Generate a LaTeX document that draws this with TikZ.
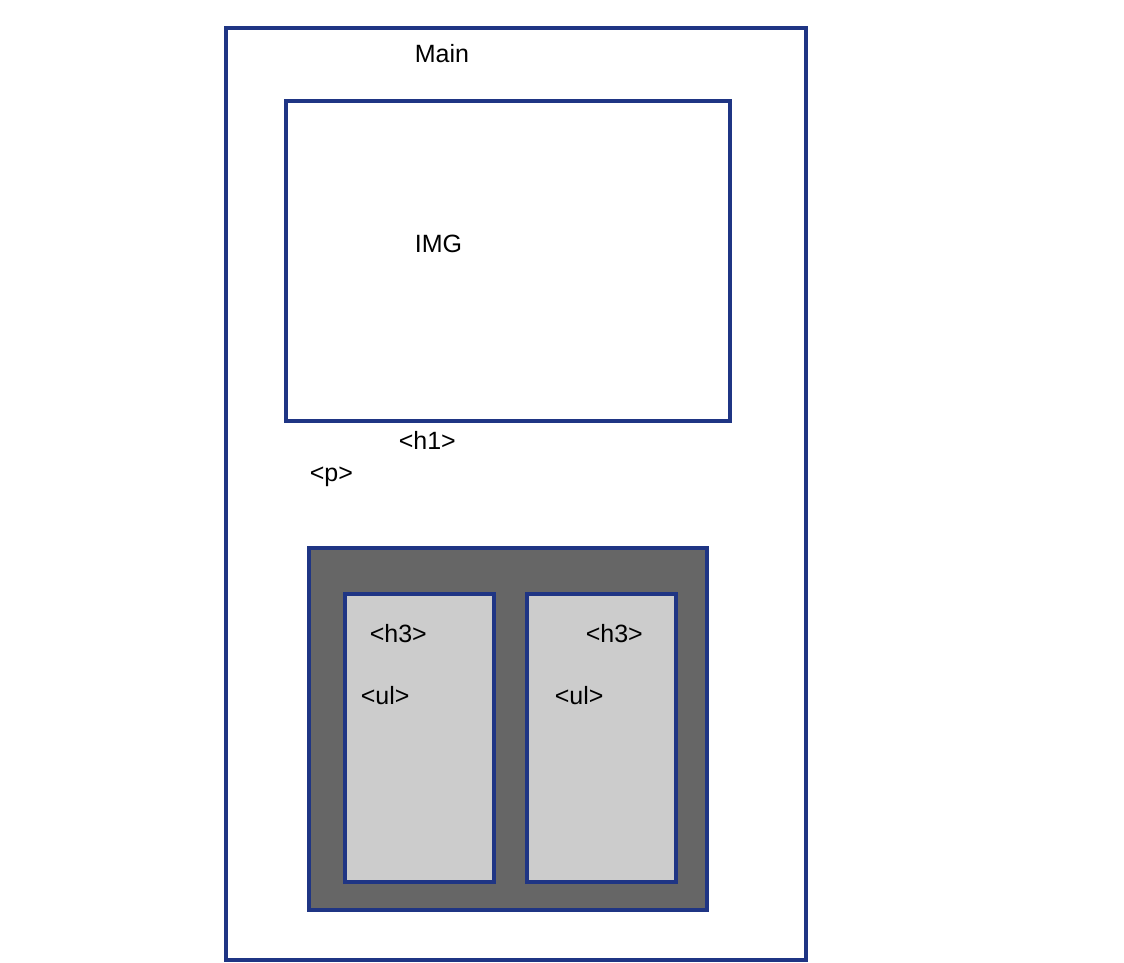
\documentclass[tikz,border=0pt]{standalone}
\usepackage{fontspec}
\setmainfont{Liberation Sans}
\usepackage{xcolor}
\usetikzlibrary{positioning}
\definecolor{frameblue}{HTML}{1F3584}
\definecolor{darkfill}{HTML}{666666}
\definecolor{lightfill}{HTML}{CCCCCC}

\begin{document}
\begin{tikzpicture}[x=1pt, y=-1pt, line width=3.6pt,
                box/.style={draw=frameblue, rectangle, inner sep=0pt},
                tag/.style={anchor=west, inner sep=0pt, font=\fontsize{25}{29}\selectfont}]

  \useasboundingbox (0,0) rectangle (1124,962);

  \node[box, minimum width=580pt, minimum height=932pt] (main) at (516,494) {};
  \node[box, minimum width=444pt, minimum height=320pt] (img) at (508,261) {};
  \node[box, fill=darkfill, minimum width=398pt, minimum height=362pt] (grid) at (508,729) {};
  \node[box, fill=lightfill, minimum width=149pt, minimum height=288pt] (col1) at (419.5,738) {};
  \node[box, fill=lightfill, minimum width=149pt, minimum height=288pt] (col2) at (601.5,738) {};

  \node[tag] (mainlbl) at (413,54) {Main};
  \node[tag] (imglbl) at (413,244) {IMG};
  \node[tag] (h1) at (397,440) {<h1>};
  \node[tag] (p) at (308,477) {<p>};
  \node[tag] (h3a) at (368,634) {<h3>};
  \node[tag] (h3b) at (584,634) {<h3>};
  \node[tag] (ula) at (359,696) {<ul>};
  \node[tag] (ulb) at (553,696) {<ul>};
\end{tikzpicture}
\end{document}
